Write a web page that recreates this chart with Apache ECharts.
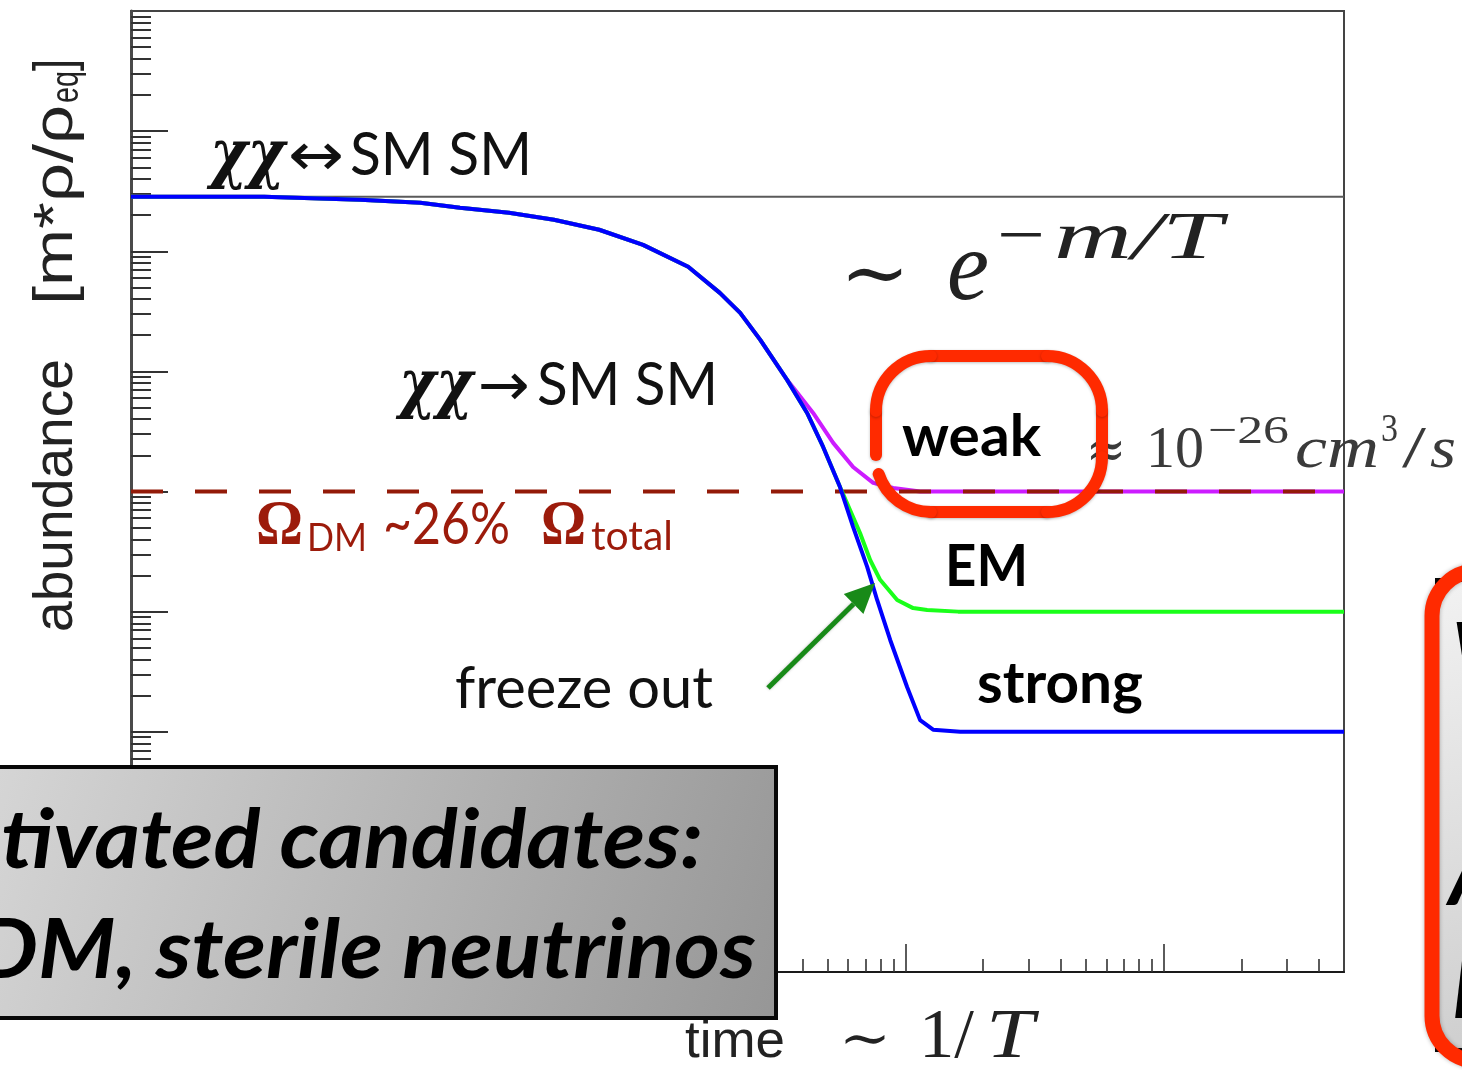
<!DOCTYPE html>
<html>
<head>
<meta charset="utf-8">
<script src="https://cdn.jsdelivr.net/npm/echarts@6/dist/echarts.min.js"></script>
<style>
  html, body { margin: 0; padding: 0; background: #fff; overflow: hidden; }
  #chart { width: 1462px; height: 1070px; }
</style>
</head>
<body>
<div id="chart"></div>
<script>
// Relic abundance vs. time (~1/T), both axes logarithmic.
const timeRange = [1, 5e4];
const abundanceRange = [1, 1e8];

// Weak-scale annihilation (freezes out earliest, highest relic abundance)
const weakTime      = [1, 3.28, 7.72, 13.2, 18.8, 29.1, 43.5, 65.1, 96.3, 144, 191, 229, 274, 348, 439, 525, 627, 750, 896, 1140, 50000];
const weakAbundance = [2.84e6, 2.84e6, 2.68e6, 2.53e6, 2.30e6, 2.09e6, 1.83e6, 1.51e6, 1.13e6, 7.42e5, 4.50e5, 3.07e5, 1.83e5, 8.50e4, 4.51e4, 2.54e4, 1.60e4, 1.18e4, 1.07e4, 1.0e4, 1.0e4];

// Electromagnetic-strength annihilation
const emTime      = [1, 3.28, 7.72, 13.2, 18.8, 29.1, 43.5, 65.1, 96.3, 144, 191, 229, 274, 348, 416, 480, 558, 667, 730, 798, 929, 1071, 1214, 1600, 50000];
const emAbundance = [2.84e6, 2.84e6, 2.68e6, 2.53e6, 2.30e6, 2.09e6, 1.83e6, 1.51e6, 1.13e6, 7.42e5, 4.50e5, 3.07e5, 1.83e5, 8.50e4, 4.51e4, 2.35e4, 1.09e4, 4.52e3, 2.69e3, 1.84e3, 1.25e3, 1.07e3, 1.03e3, 1000, 1000];

// Strong annihilation (stays in equilibrium longest)
const strongTime      = [1, 3.28, 7.72, 13.2, 18.8, 29.1, 43.5, 65.1, 96.3, 144, 191, 229, 274, 348, 416, 480, 558, 627, 711, 777, 873, 1015, 1140, 1280, 1630, 50000];
const strongAbundance = [2.84e6, 2.84e6, 2.68e6, 2.53e6, 2.30e6, 2.09e6, 1.83e6, 1.51e6, 1.13e6, 7.42e5, 4.50e5, 3.07e5, 1.83e5, 8.50e4, 4.51e4, 2.35e4, 1.09e4, 5.07e3, 2.36e3, 1.25e3, 581, 236, 125, 104, 100, 100];

// Reference levels
const equilibriumLevel = 2.84e6;   // chi chi <-> SM SM
const omegaDMLevel = 1e4;          // Omega_DM ~ 26% Omega_total

// Tick positions
const timeDecades = [1, 10, 100, 1000, 10000];
const abundanceDecades = [1, 10, 100, 1e3, 1e4, 1e5, 1e6, 1e7];
const minorMultipliers = [2, 3, 4, 5, 6, 7, 8, 9];
const timeMajorTicks = [10, 100, 1000, 10000];
const abundanceMajorTicks = [10, 100, 1e3, 1e4, 1e5, 1e6, 1e7];

function minorTicks(decades, max) {
  const out = [];
  decades.forEach(d => minorMultipliers.forEach(k => { if (k * d < max) out.push(k * d); }));
  return out;
}
const timeMinorTicks = minorTicks(timeDecades, timeRange[1]);
const abundanceMinorTicks = minorTicks(abundanceDecades, abundanceRange[1]);

function pairs(xs, ys) { return xs.map((x, i) => [x, ys[i]]); }

// ---------- text helpers ----------
const SANS = 'Lato';
const SERIF = '"Liberation Serif"';
const MSERIF = '"DejaVu Serif"';
const HELV = '"Liberation Sans"';
const DEJAVU = '"DejaVu Sans"';

const mctx = document.createElement('canvas').getContext('2d');
function fontStr(o) {
  return [o.style || 'normal', o.weight || 'normal', o.size + 'px', o.family].join(' ');
}
// Places text with its alphabetic baseline at o.base; o.w stretches it to a given width.
function label(o) {
  const font = fontStr(o);
  mctx.font = font;
  mctx.textBaseline = 'middle';
  const width = mctx.measureText(o.fitText || o.text).width;
  const off = mctx.measureText('H').actualBoundingBoxDescent;
  const sx = o.w ? o.w / width : 1;
  let x = o.x;
  if (o.rightAt !== undefined) x = o.rightAt - sx * mctx.measureText(o.text).width;
  return {
    type: 'text', x: x, y: o.base - off, scaleX: sx, z: o.z || 30, silent: true,
    style: { text: o.text, font: font, fill: o.fill || '#111', align: 'left', verticalAlign: 'middle' }
  };
}

const OMEGA = '#9c1b0b';
const MATH = '#222222';
const MATH2 = '#3a3a3a';
const RED = '#ff2a00';

const texts = [
  // chi chi <-> SM SM
  label({ x: 210, base: 175, text: 'χχ', style: 'italic', weight: 'bold', size: 66, family: MSERIF, w: 75 }),
  label({ x: 288, base: 175, text: '↔', size: 60, family: DEJAVU, w: 56 }),
  label({ x: 350, base: 175, text: 'SM SM', size: 60, family: SANS, w: 182 }),
  // chi chi -> SM SM
  label({ x: 399, base: 405, text: 'χχ', style: 'italic', weight: 'bold', size: 66, family: MSERIF, w: 74 }),
  label({ x: 478, base: 405, text: '→', size: 60, family: DEJAVU, w: 52 }),
  label({ x: 537, base: 405, text: 'SM SM', size: 60, family: SANS, w: 181 }),
  // freeze out
  label({ x: 455, base: 708, text: 'freeze out', size: 58, family: SANS, w: 258 }),
  // Omega_DM ~26% Omega_total
  label({ x: 256, base: 544, text: 'Ω', weight: 'bold', size: 64, family: SERIF, w: 47, fill: OMEGA }),
  label({ x: 307, base: 551, text: 'DM', size: 38, family: SANS, w: 60, fill: OMEGA }),
  label({ x: 383, base: 544, text: '~26%', size: 58, family: SANS, w: 127, fill: OMEGA }),
  label({ x: 541, base: 544, text: 'Ω', weight: 'bold', size: 64, family: SERIF, w: 45, fill: OMEGA }),
  label({ x: 591, base: 550, text: 'total', size: 40, family: SANS, w: 82, fill: OMEGA }),
  // interaction strengths
  label({ x: 902, base: 456, text: 'weak', weight: 'bold', size: 58, family: SANS, w: 139, fill: '#000' }),
  label({ x: 945, base: 586, text: 'EM', weight: 'bold', size: 58, family: SANS, w: 83, fill: '#000' }),
  label({ x: 977, base: 703, text: 'strong', weight: 'bold', size: 58, family: SANS, w: 166, fill: '#000' }),
  // ~ e^{-m/T}
  label({ x: 840, base: 300, text: '∼', size: 80, family: MSERIF, w: 70, fill: MATH }),
  label({ x: 947, base: 300, text: 'e', style: 'italic', size: 100, family: SERIF, w: 42, fill: MATH }),
  label({ x: 997, base: 258, text: '−', size: 70, family: SERIF, w: 48, fill: MATH }),
  label({ x: 1054, base: 258, text: 'm/T', style: 'italic', size: 68, family: SERIF, w: 168, fill: MATH }),
  // ≈ 10^-26 cm^3/s
  label({ x: 1086, base: 468, text: '≈', size: 56, family: MSERIF, w: 40, fill: MATH2 }),
  label({ x: 1146, base: 467, text: '10', size: 60, family: SERIF, w: 58, fill: MATH2 }),
  label({ x: 1208, base: 443, text: '−26', size: 40, family: SERIF, w: 81, fill: MATH2 }),
  label({ x: 1295, base: 467, text: 'cm', style: 'italic', size: 60, family: SERIF, w: 84, fill: MATH2 }),
  label({ x: 1381, base: 441, text: '3', size: 40, family: SERIF, w: 17, fill: MATH2 }),
  label({ x: 1402, base: 467, text: '/', size: 60, family: SERIF, w: 24, fill: MATH2 }),
  label({ x: 1430, base: 467, text: 's', style: 'italic', size: 60, family: SERIF, w: 26, fill: MATH2 }),
  // time ~ 1/T
  label({ x: 685, base: 1057, text: 'time', size: 52, family: HELV, w: 100, fill: '#222' }),
  label({ x: 839, base: 1057, text: '∼', size: 56, family: MSERIF, w: 52, fill: MATH }),
  label({ x: 919, base: 1057, text: '1/', size: 70, family: SERIF, w: 55, fill: MATH }),
  label({ x: 986, base: 1057, text: 'T', style: 'italic', size: 70, family: SERIF, w: 48, fill: MATH })
];

// vertical axis title, reading bottom to top
const yTitle = {
  type: 'group', x: 72, y: 632, rotation: Math.PI / 2, z: 30,
  children: [
    label({ x: 0, base: 0, text: 'abundance', size: 55, family: HELV, w: 273, fill: '#222' }),
    label({ x: 327, base: 0, text: '[m*ρ/ρ', size: 55, family: HELV, w: 200, fill: '#222' }),
    label({ x: 529, base: 6, text: 'eq', size: 38, family: HELV, w: 32, fill: '#222' }),
    label({ x: 561, base: 0, text: ']', size: 55, family: HELV, w: 12, fill: '#222' })
  ]
};

// hand-drawn highlight around "weak" (open at the lower left)
function weakBox() {
  const L = 876, R = 1102, T = 356, B = 512, r = 55;
  const st = { stroke: RED, lineWidth: 12, lineCap: 'round', fill: null,
               shadowBlur: 3, shadowColor: 'rgba(0,0,0,0.25)', shadowOffsetY: 1 };
  const z = 36;
  return [
    { type: 'line', z, silent: true, shape: { x1: L + r, y1: T, x2: R - r, y2: T }, style: st },
    { type: 'line', z, silent: true, shape: { x1: R, y1: T + r, x2: R, y2: B - r }, style: st },
    { type: 'line', z, silent: true, shape: { x1: L + r, y1: B, x2: R - r, y2: B }, style: st },
    { type: 'line', z, silent: true, shape: { x1: L, y1: T + r, x2: L, y2: 455 }, style: st },
    { type: 'arc', z, silent: true, shape: { cx: L + r, cy: T + r, r, startAngle: Math.PI, endAngle: 1.5 * Math.PI, clockwise: true }, style: st },
    { type: 'arc', z, silent: true, shape: { cx: R - r, cy: T + r, r, startAngle: 1.5 * Math.PI, endAngle: 2 * Math.PI, clockwise: true }, style: st },
    { type: 'arc', z, silent: true, shape: { cx: R - r, cy: B - r, r, startAngle: 0, endAngle: 0.5 * Math.PI, clockwise: true }, style: st },
    { type: 'arc', z, silent: true, shape: { cx: L + r, cy: B - r, r, startAngle: 0.5 * Math.PI, endAngle: 0.9 * Math.PI, clockwise: true }, style: st }
  ];
}

// "freeze out" arrow
function arrow(x1, y1, x2, y2, color) {
  const len = Math.hypot(x2 - x1, y2 - y1);
  const ux = (x2 - x1) / len, uy = (y2 - y1) / len;
  const hl = 30, hw = 14;
  const bx = x2 - ux * hl, by = y2 - uy * hl;
  return [
    { type: 'line', z: 35, silent: true, shape: { x1, y1, x2: bx, y2: by },
      style: { stroke: color, lineWidth: 5, shadowBlur: 3, shadowColor: 'rgba(0,0,0,0.25)' } },
    { type: 'polygon', z: 35, silent: true,
      shape: { points: [[x2, y2], [bx - uy * hw, by + ux * hw], [bx + uy * hw, by - ux * hw]] },
      style: { fill: color } }
  ];
}

// slide boxes overlapping the plot
const grayGrad = { type: 'linear', x: 0, y: 0, x2: 1, y2: 1,
  colorStops: [{ offset: 0, color: '#d6d6d6' }, { offset: 1, color: '#969696' }] };
const lightGrad = { type: 'linear', x: 0, y: 0, x2: 1, y2: 1,
  colorStops: [{ offset: 0, color: '#f2f2f2' }, { offset: 1, color: '#cdcdcd' }] };

const boxFont = { style: 'italic', weight: 'bold', size: 82, family: SANS, fill: '#000', z: 41 };
const leftBox = [
  { type: 'rect', z: 40, silent: true, shape: { x: -10, y: 767, width: 786, height: 251 },
    style: { fill: grayGrad, stroke: '#080808', lineWidth: 4 } },
  label(Object.assign({ x: 1, base: 868, text: 'tivated candidates:', w: 702 }, boxFont)),
  label(Object.assign({ base: 978, text: 'DM, sterile neutrinos', fitText: 'M, sterile neutrinos', w: 718, rightAt: 756 }, boxFont))
];

const rightBox = [
  { type: 'rect', z: 40, silent: true, shape: { x: 1437, y: 580, width: 120, height: 470 },
    style: { fill: lightGrad, stroke: '#0a0a0a', lineWidth: 4 } },
  label(Object.assign({ x: 1452, base: 682, text: 'W' }, boxFont, { z: 41 })),
  label(Object.assign({ x: 1449, base: 905, text: 'A' }, boxFont, { z: 41 })),
  label(Object.assign({ x: 1452, base: 1018, text: 'I' }, boxFont, { z: 41 })),
  { type: 'rect', z: 42, silent: true, shape: { x: 1432, y: 571, width: 140, height: 490, r: 45 },
    style: { fill: null, stroke: RED, lineWidth: 15, shadowBlur: 4, shadowColor: 'rgba(0,0,0,0.3)' } }
];

// ---------- chart ----------
const lineBase = { type: 'line', showSymbol: false, symbol: 'none', silent: true, animation: false, clip: true,
                   xAxisIndex: 0, yAxisIndex: 0, smooth: false };

function xAxisDef(ticks, len, showLine) {
  return {
    type: 'log', logBase: 10, min: timeRange[0], max: timeRange[1], position: 'bottom', gridIndex: 0,
    axisLine: { show: showLine, onZero: false, lineStyle: { color: '#1a1a1a', width: 2 } },
    axisTick: { show: true, inside: true, length: len, customValues: ticks, lineStyle: { color: '#333', width: 1.6 } },
    axisLabel: { show: false }, splitLine: { show: false }, minorTick: { show: false }
  };
}
function yAxisDef(ticks, len, showLine) {
  return {
    type: 'log', logBase: 10, min: abundanceRange[0], max: abundanceRange[1], position: 'left', gridIndex: 0,
    axisLine: { show: showLine, onZero: false, lineStyle: { color: '#4a4a4a', width: 3 } },
    axisTick: { show: true, inside: true, length: len, customValues: ticks, lineStyle: { color: '#333', width: 2 } },
    axisLabel: { show: false }, splitLine: { show: false }, minorTick: { show: false }
  };
}

const chart = echarts.init(document.getElementById('chart'), null, { renderer: 'canvas' });
chart.setOption({
  backgroundColor: '#ffffff',
  animation: false,
  grid: { left: 131, right: 118, top: 11, bottom: 98, show: true, borderColor: '#444', borderWidth: 2, backgroundColor: 'transparent' },
  xAxis: [xAxisDef(timeMajorTicks, 28, true), xAxisDef(timeMinorTicks, 13, false)],
  yAxis: [yAxisDef(abundanceMajorTicks, 37, true), yAxisDef(abundanceMinorTicks, 20, false)],
  series: [
    Object.assign({}, lineBase, { name: 'equilibrium', z: 2,
      data: [[timeRange[0], equilibriumLevel], [timeRange[1], equilibriumLevel]],
      lineStyle: { color: '#5a5a5a', width: 2 } }),
    Object.assign({}, lineBase, { name: 'weak', z: 3, data: pairs(weakTime, weakAbundance),
      lineStyle: { color: '#cc1cff', width: 4, join: 'round' } }),
    Object.assign({}, lineBase, { name: 'Omega_DM', z: 4,
      data: [[timeRange[0], omegaDMLevel], [timeRange[1], omegaDMLevel]],
      lineStyle: { color: '#931a08', width: 4, type: [32, 32] } }),
    Object.assign({}, lineBase, { name: 'EM', z: 5, data: pairs(emTime, emAbundance),
      lineStyle: { color: '#1aff1a', width: 4, join: 'round' } }),
    Object.assign({}, lineBase, { name: 'strong', z: 6, data: pairs(strongTime, strongAbundance),
      lineStyle: { color: '#0000ff', width: 4, join: 'round' } })
  ],
  graphic: {
    elements: [].concat(texts, [yTitle], weakBox(), arrow(768, 688, 875, 583, '#188a18'), leftBox, rightBox)
  }
});
</script>
</body>
</html>
